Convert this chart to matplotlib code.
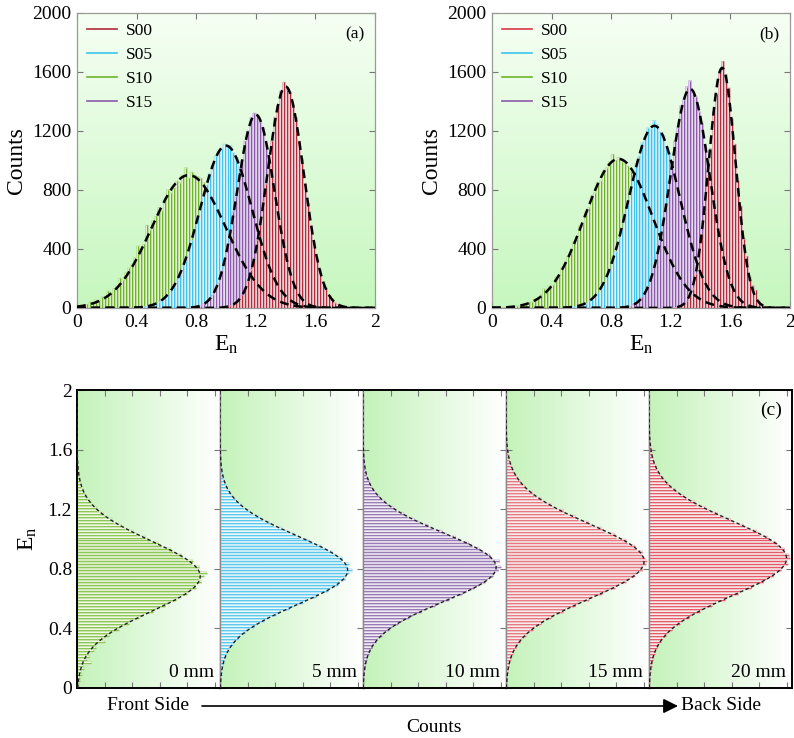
import numpy as np
import matplotlib
matplotlib.use("Agg")
import matplotlib.pyplot as plt
from matplotlib.colors import LinearSegmentedColormap

plt.rcParams['font.family'] = ['Liberation Serif', 'DejaVu Serif']
plt.rcParams['mathtext.fontset'] = 'custom'
plt.rcParams['mathtext.rm'] = 'Liberation Serif'

BIN = 0.02

# ---- panel (a): histogram counts per 0.02 bin, first bin edge given by *_start
a_s10_start = 0.00
a_s10 = [10, 15, 20, 25, 40, 35, 55, 50, 75, 70,
         115, 100, 130, 150, 200, 190, 240, 270, 290, 340,
         420, 400, 430, 560, 530, 590, 620, 680, 660, 730,
         800, 780, 810, 860, 850, 900, 950, 880, 920, 900,
         890, 880, 850, 820, 780, 760, 710, 680, 630, 600,
         550, 520, 460, 430, 385, 350, 320, 280, 250, 215,
         190, 170, 140, 125, 105, 90, 78, 62, 55, 44,
         38, 30, 25, 20, 16, 12, 10, 7, 5, 4]
a_s05_start = 0.40
a_s05 = [4, 6, 8, 12, 15, 25, 28, 42, 50, 75,
         88, 125, 145, 190, 225, 285, 320, 410, 455, 540,
         620, 680, 770, 830, 910, 960, 1030, 1060, 1080, 1110,
         1090, 1100, 1050, 1020, 950, 910, 830, 770, 680, 620,
         530, 470, 390, 340, 270, 235, 180, 150, 115, 95,
         70, 55, 38, 32, 20, 17, 10, 8, 5, 3]
a_s15_start = 0.78
a_s15 = [5, 12, 15, 28, 38, 62, 85, 130, 170, 250,
         310, 420, 510, 650, 750, 900, 1000, 1130, 1200, 1290,
         1320, 1300, 1260, 1220, 1100, 1020, 880, 770, 630, 530,
         400, 330, 235, 180, 120, 92, 58, 42, 24, 17,
         9, 5]
a_s00_start = 0.98
a_s00 = [4, 10, 14, 26, 36, 62, 85, 135, 180, 260,
         330, 460, 560, 720, 840, 1010, 1130, 1290, 1370, 1470,
         1530, 1480, 1460, 1360, 1290, 1130, 1010, 840, 710, 560,
         450, 330, 260, 175, 135, 85, 62, 36, 25, 14,
         8, 5]

# ---- panel (b)
b_s10_start = 0.00
b_s10 = [0, 1, 2, 3, 5, 4, 8, 10, 15, 14,
         25, 24, 38, 40, 60, 58, 90, 130, 105, 150,
         155, 210, 215, 270, 290, 350, 375, 450, 470, 560,
         570, 650, 680, 760, 780, 850, 860, 930, 950, 990,
         1040, 1000, 1020,
         990, 975, 960, 920, 870, 840, 790, 740, 700, 630,
         590, 530, 490, 420, 390, 330, 300, 250, 230, 185,
         165, 135, 118, 90, 80, 62, 54, 40, 34, 26,
         22, 15, 13, 9, 8, 6, 4, 3, 2, 2,
         1, 1]
b_s05_start = 0.50
b_s05 = [3, 7, 8, 13, 15, 26, 30, 48, 58, 85,
         100, 140, 165, 220, 260, 330, 380, 470, 530, 640,
         700, 810, 870, 980, 1030, 1120, 1150, 1220, 1210, 1270,
         1240, 1190, 1170, 1090, 1050, 950, 890, 790, 720, 610,
         550, 450, 395, 315, 270, 205, 175, 130, 108, 76,
         62, 43, 35, 22, 18, 11, 9, 5, 4]
b_s15_start = 0.88
b_s15 = [4, 10, 13, 24, 32, 55, 72, 112, 145, 215,
         270, 375, 455, 590, 700, 860, 970, 1130, 1220, 1370,
         1410, 1500, 1540,
         1470, 1430, 1330, 1250, 1100, 990, 830, 720, 570, 470,
         350, 285, 200, 155, 104, 78, 48, 36, 20, 15, 8, 5]
b_s00_start = 1.22
b_s00 = [2, 7, 12, 28, 44, 88, 130, 230, 320, 500,
         650, 900, 1080, 1330, 1450, 1600, 1670,
         1580, 1490, 1280, 1110, 860, 690, 470, 350, 210,
         150, 120, 48, 28, 12, 6, 3]

# Gaussian fits (amplitude, centre, width) for S00, S05, S10, S15
series_names = ['S00', 'S05', 'S10', 'S15']
a_fit_amp = [1500, 1100, 900, 1310]
a_fit_mu = [1.40, 1.00, 0.75, 1.20]
a_fit_sig = [0.122, 0.175, 0.248, 0.125]
b_fit_amp = [1627, 1234, 1010, 1485]
b_fit_mu = [1.545, 1.09, 0.85, 1.33]
b_fit_sig = [0.09, 0.171, 0.23, 0.131]

# ---- panel (c): depth profiles, counts per 0.02 bin of E_n starting at 0
depth_labels = ['0 mm', '5 mm', '10 mm', '15 mm', '20 mm']
c_0mm = [20, 15, 30, 25, 45, 40, 60, 55, 130, 90,
         110, 100, 150, 170, 160, 250, 230, 290, 300, 380,
         390, 470, 480, 560, 600, 690, 710, 800, 820, 900,
         920, 1000, 1010, 1080, 1070, 1130, 1100, 1150,
         1180, 1090, 1110, 1040, 1050, 960, 950, 870, 850, 760,
         740, 650, 620, 540, 510, 430, 400, 330, 320, 250,
         240, 180, 175, 130, 125, 90, 85, 60, 55, 40,
         38, 25, 24, 15, 14, 9, 8, 5, 4, 2]
c_5mm = [5, 6, 8, 10, 14, 15, 22, 25, 32, 36,
         52, 56, 78, 85, 115, 125, 165, 180, 230, 245,
         310, 330, 400, 430, 510, 540, 630, 660, 750, 780,
         870, 890, 980, 1000, 1070, 1080, 1140, 1130, 1170, 1200,
         1150, 1170, 1100, 1110, 1040, 1020, 950, 920, 840, 800,
         720, 680, 600, 560, 480, 450, 380, 350, 285, 265,
         210, 195, 150, 140, 104, 93, 70, 62, 46, 40,
         28, 25, 18, 16, 10, 10, 6, 5, 3, 3]
c_10mm = [2, 5, 4, 8, 8, 13, 15, 21, 23, 33,
          38, 54, 60, 80, 90, 120, 130, 170, 190, 235,
          260, 315, 350, 415, 450, 530, 570, 650, 690, 780,
          820, 900, 940, 1010, 1050, 1110, 1130, 1180, 1190, 1230,
          1250,
          1200, 1240, 1170, 1150, 1090, 1060, 990, 960, 880, 840,
          760, 720, 630, 590, 510, 470, 400, 370, 300, 280,
          225, 200, 160, 145, 112, 98, 74, 64, 50, 42,
          30, 26, 18, 17, 11, 10, 6, 5, 4, 2]
c_15mm = [3, 7, 7, 12, 11, 18, 19, 28, 29, 43,
          45, 64, 66, 92, 98, 130, 140, 180, 190, 245,
          255, 320, 340, 410, 430, 520, 540, 630, 650, 750,
          780, 870, 900, 990, 1010, 1090, 1110, 1170, 1180, 1240,
          1230, 1270, 1280,
          1260, 1230, 1240, 1180, 1170, 1100, 1090, 1000, 990, 890,
          870, 770, 750, 650, 630, 530, 520, 430, 410, 330,
          320, 250, 240, 185, 175, 135, 128, 95, 88, 65,
          60, 44, 40, 28, 26, 18, 16, 11, 10, 6]
c_20mm = [2, 5, 5, 9, 9, 14, 15, 23, 24, 35,
          36, 52, 55, 75, 82, 108, 115, 150, 165, 210,
          220, 280, 295, 365, 380, 460, 480, 570, 590, 690,
          710, 810, 830, 930, 950, 1040, 1060, 1130, 1140, 1200,
          1210, 1260, 1240, 1280,
          1270, 1220, 1230, 1170, 1160, 1100, 1080, 1000, 980, 890,
          860, 770, 740, 650, 620, 540, 510, 430, 410, 340,
          315, 255, 240, 190, 175, 138, 125, 96, 88, 66,
          60, 45, 40, 29, 26, 19, 16, 11, 9]
c_fit_amp = [1120, 1160, 1210, 1255, 1250]
c_fit_mu = [0.75, 0.79, 0.81, 0.85, 0.87]
c_fit_sig = [0.235, 0.23, 0.23, 0.25, 0.25]

# colours: thin centre line colour and pale body of each bar
col = {'S00': '#b22a3e', 'S05': '#3cc4ee', 'S10': '#6cb42c', 'S15': '#8c5aa8'}
pale = {'S00': '#ecd6d8', 'S05': '#d8f2fa', 'S10': '#e2f2d0', 'S15': '#e6dcee'}
outline = {'S00': '#e0a8ae', 'S05': '#9edcf2', 'S10': '#b8dc96', 'S15': '#c8aedc'}
b_legend_red = '#d9364a'

green_v = LinearSegmentedColormap.from_list('gv', ['#f6fff4', '#c6f7be'])
green_h = LinearSegmentedColormap.from_list('gh', ['#c4f3ba', '#ffffff'])


def gradient(ax, cmap, vertical=True):
    if vertical:
        img = np.linspace(0, 1, 256).reshape(-1, 1)
    else:
        img = np.linspace(0, 1, 256).reshape(1, -1)
    ax.imshow(img, cmap=cmap, extent=[0, 1, 0, 1], transform=ax.transAxes,
              aspect='auto', zorder=0, interpolation='bilinear')


def gauss(x, a, mu, sig):
    return a * np.exp(-(x - mu) ** 2 / (2 * sig ** 2))


def hist_bars(ax, start, counts, line_c, body_c, edge_c, horizontal=False,
              z=2):
    # pale bar body with a one-pixel coloured line down its middle
    centres = start + BIN * (np.arange(len(counts)) + 0.5)
    if horizontal:
        ax.barh(centres, counts, height=BIN, color=body_c, edgecolor=edge_c,
                linewidth=0.6, zorder=z, snap=False)
        lc = ax.hlines(centres, 0, counts, colors=line_c, lw=0.72,
                       zorder=z + 0.01)
    else:
        ax.bar(centres, counts, width=BIN, color=body_c, edgecolor=edge_c,
               linewidth=0.6, zorder=z, snap=False)
        lc = ax.vlines(centres, 0, counts, colors=line_c, lw=0.72,
                       zorder=z + 0.01)
    lc.set_snap(True)


fig = plt.figure(figsize=(7.94, 7.38), dpi=100)

xs = np.linspace(0, 2, 400)
top_panels = [
    (fig.add_axes([0.097, 0.5827, 0.3753, 0.4]), '(a)',
     [(a_s10_start, a_s10, 'S10'), (a_s05_start, a_s05, 'S05'),
      (a_s15_start, a_s15, 'S15'), (a_s00_start, a_s00, 'S00')],
     a_fit_amp, a_fit_mu, a_fit_sig, col['S00']),
    (fig.add_axes([0.6196, 0.5827, 0.3753, 0.4]), '(b)',
     [(b_s10_start, b_s10, 'S10'), (b_s05_start, b_s05, 'S05'),
      (b_s15_start, b_s15, 'S15'), (b_s00_start, b_s00, 'S00')],
     b_fit_amp, b_fit_mu, b_fit_sig, b_legend_red),
]

for ax, tag, hists, amp, mu, sig, red in top_panels:
    gradient(ax, green_v, vertical=True)
    for j, (start, counts, name) in enumerate(hists):
        hist_bars(ax, start, counts, col[name], pale[name], outline[name],
                  z=2 + 0.1 * j)
    for k in range(4):
        ax.plot(xs, gauss(xs, amp[k], mu[k], sig[k]), color='black',
                ls=(0, (3.5, 2.2)), lw=1.8, zorder=3)
    handles = []
    for name in series_names:
        c = red if name == 'S00' else col[name]
        h, = ax.plot([], [], color=c, lw=1.2, label=name)
        handles.append(h)
    ax.legend(handles=handles, loc='upper left', frameon=False, fontsize=12.5,
              handlelength=1.7, labelspacing=0.45, borderaxespad=0.2,
              handletextpad=0.5)
    ax.text(0.965, 0.955, tag, transform=ax.transAxes, ha='right', va='top',
            fontsize=12.5)
    ax.set_xlim(0, 2)
    ax.set_ylim(0, 2000)
    ax.set_xticks([0, 0.4, 0.8, 1.2, 1.6, 2])
    ax.set_xticklabels(['0', '0.4', '0.8', '1.2', '1.6', '2'])
    ax.set_yticks([0, 400, 800, 1200, 1600, 2000])
    ax.tick_params(direction='in', top=True, right=True, length=4,
                   labelsize=14, color='#777777', pad=4)
    for s in ax.spines.values():
        s.set_color('#9a9a9a')
        s.set_linewidth(0.9)
    ax.set_xlabel(r'$\mathregular{E_n}$', fontsize=17, labelpad=2)
    ax.set_ylabel('Counts', fontsize=17, labelpad=4)

# ---- panel (c)
c_hists = [c_0mm, c_5mm, c_10mm, c_15mm, c_20mm]
c_line = ['#8cc854', '#5ccaf0', '#9a7cb4', '#e87882', '#e65a6a']
c_body = ['#eef8e4', '#e8f8fc', '#f0eaf4', '#faeaea', '#faeaea']
c_edge = ['#c4e0a8', '#b0e2f2', '#d0c0de', '#ecc0c4', '#ecbcc0']
ys = np.linspace(0, 2, 400)
cw = 0.9005 / 5
c_axes = []
for i in range(5):
    ax = fig.add_axes([0.097 + i * cw, 0.0678, cw, 0.4037])
    c_axes.append(ax)
    gradient(ax, green_h, vertical=False)
    hist_bars(ax, 0.0, c_hists[i], c_line[i], c_body[i], c_edge[i],
              horizontal=True)
    ax.plot(gauss(ys, c_fit_amp[i], c_fit_mu[i], c_fit_sig[i]), ys,
            color='#222222', ls=(0, (2.5, 1.8)), lw=1.0, zorder=3)
    ax.set_xlim(0, 1300)
    ax.set_ylim(0, 2)
    ax.set_xticks([250, 500, 750, 1000, 1250])
    ax.set_yticks([0, 0.4, 0.8, 1.2, 1.6, 2])
    ax.set_yticklabels(['0', '0.4', '0.8', '1.2', '1.6', '2'])
    ax.tick_params(direction='in', top=True, right=True, length=4,
                   labelbottom=False, labelleft=(i == 0), labelsize=14,
                   color='#777777')
    for side in ['top', 'bottom']:
        ax.spines[side].set_color('black')
        ax.spines[side].set_linewidth(1.4)
    ax.spines['left'].set_color('black' if i == 0 else '#8a8a8a')
    ax.spines['left'].set_linewidth(1.4 if i == 0 else 1.0)
    ax.spines['right'].set_color('black' if i == 4 else '#8a8a8a')
    ax.spines['right'].set_linewidth(1.4 if i == 4 else 1.0)
    ax.text(0.96, 0.025, depth_labels[i], transform=ax.transAxes,
            ha='right', va='bottom', fontsize=14, zorder=5)

c_axes[0].set_ylabel(r'$\mathregular{E_n}$', fontsize=17, labelpad=6)
c_axes[-1].text(0.93, 0.96, '(c)', transform=c_axes[-1].transAxes,
                ha='right', va='top', fontsize=14)

# depth direction arrow under panel (c)
y_arr = 1 - 706 / 738
fig.text(148 / 794, y_arr, 'Front Side', ha='center', va='center', fontsize=14)
fig.text(721 / 794, y_arr, 'Back Side', ha='center', va='center', fontsize=14)
fig.text(434 / 794, 1 - 728 / 738, 'Counts', ha='center', va='center',
         fontsize=14)
c_axes[0].annotate('', xy=(678 / 794, y_arr), xytext=(202 / 794, y_arr),
                   xycoords='figure fraction', textcoords='figure fraction',
                   arrowprops=dict(arrowstyle='-|>', color='black', lw=1.2,
                                   mutation_scale=22, shrinkA=0, shrinkB=0))

fig.savefig('out.png', dpi=100)
